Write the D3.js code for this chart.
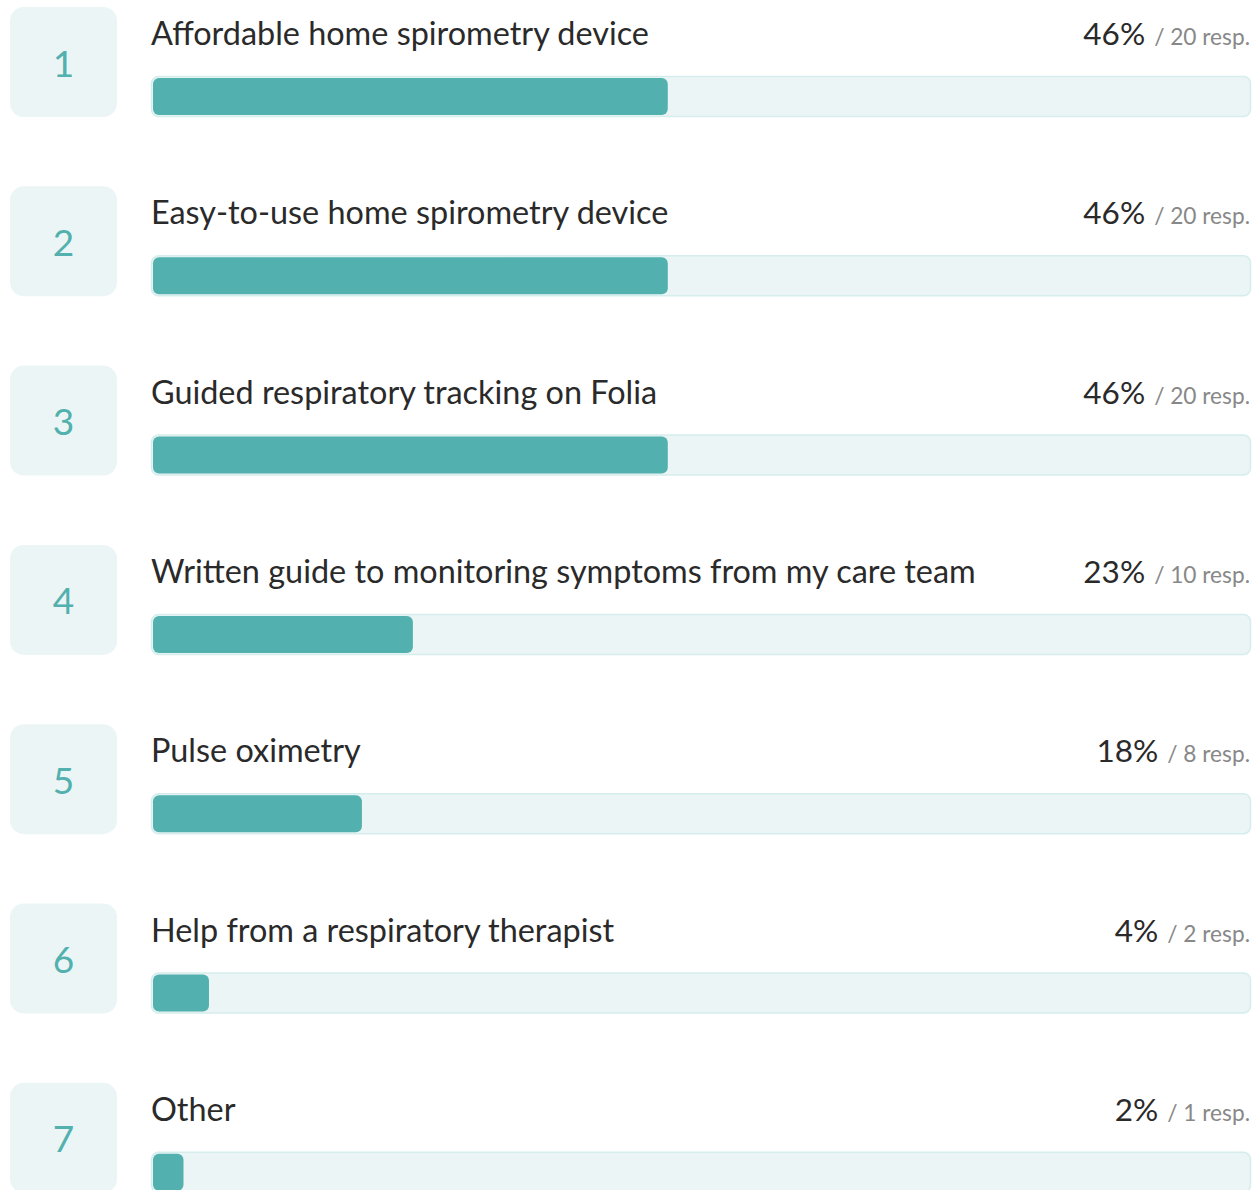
<!DOCTYPE html>
<html><head><meta charset="utf-8">
<script src="https://cdn.jsdelivr.net/npm/d3@7"></script>
<style>body{margin:0;background:#fff}svg{display:block}</style>
</head><body>
<script>
const categories = [
  "Affordable home spirometry device",
  "Easy-to-use home spirometry device",
  "Guided respiratory tracking on Folia",
  "Written guide to monitoring symptoms from my care team",
  "Pulse oximetry",
  "Help from a respiratory therapist",
  "Other"
];
const responses = [20, 20, 20, 10, 8, 2, 1];
const percentLabels = ["46%", "46%", "46%", "23%", "18%", "4%", "2%"];
const totalResponses = 43;

const W = 1255, H = 1190;
const svg = d3.select("body").append("svg").attr("width", W).attr("height", H);
const font = "Lato, 'Source Sans Pro', sans-serif";

const y = d3.scaleBand().domain(d3.range(categories.length)).range([7, 7 + 179.3 * categories.length]).paddingInner(0);
const trackX0 = 151, trackX1 = 1251;
const x = d3.scaleLinear().domain([0, totalResponses]).range([0, trackX1 - trackX0 - 4]);

const rows = svg.selectAll("g.row").data(categories).join("g")
  .attr("class", "row")
  .attr("transform", (d, i) => `translate(0,${y(i)})`);

rows.append("rect").attr("x", 10).attr("y", 0).attr("width", 107).attr("height", 110)
  .attr("rx", 14).attr("fill", "#ebf5f5");
rows.append("text").attr("x", 63.5).attr("y", 69.5).attr("text-anchor", "middle")
  .attr("font-family", font).attr("font-size", 37).attr("fill", "#52b0ae")
  .text((d, i) => i + 1);

rows.append("text").attr("x", 151).attr("y", 38)
  .attr("font-family", font).attr("font-size", 32.4).attr("fill", "#2a2a2a")
  .text(d => d);

const rt = rows.append("text").attr("x", 1250).attr("y", 38).attr("text-anchor", "end")
  .attr("font-family", font);
rt.append("tspan").attr("font-size", 31.5).attr("fill", "#2a2a2a").text((d, i) => percentLabels[i]);
rt.append("tspan").attr("font-size", 22.7).attr("fill", "#888").attr("dx", 9).text((d, i) => `/ ${responses[i]} resp.`);

rows.append("rect").attr("x", trackX0 + 0.5).attr("y", 69.5).attr("width", trackX1 - trackX0 - 1).attr("height", 40)
  .attr("rx", 7).attr("fill", "#ebf5f5").attr("stroke", "#d6eded").attr("stroke-width", 1.5);
rows.append("rect").attr("x", trackX0 + 2).attr("y", 71).attr("width", (d, i) => x(responses[i]) + 5).attr("height", 37)
  .attr("rx", 6).attr("fill", "#52b0ae");
</script>
</body></html>
